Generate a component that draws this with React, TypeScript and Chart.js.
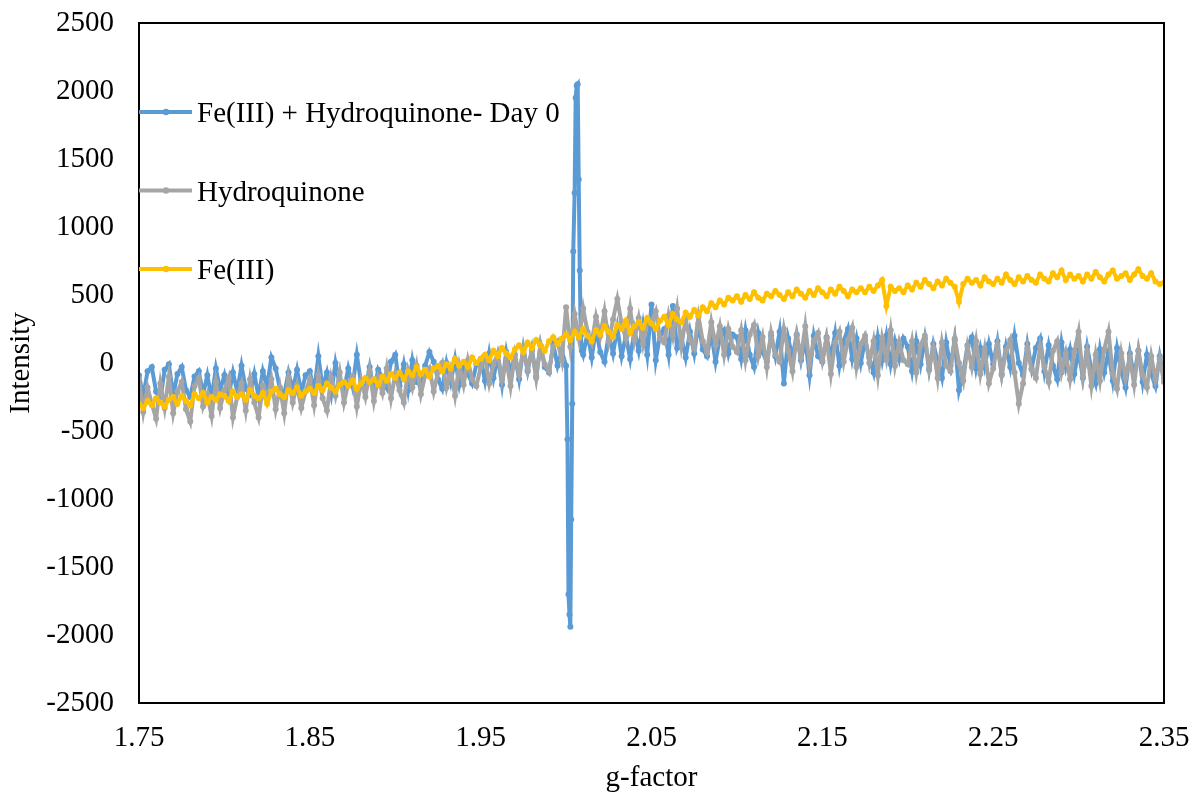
import React, { useEffect, useRef } from 'react';
import { Chart, registerables } from 'chart.js';

Chart.register(...registerables);

// ---- sampling grid (g-factor) ----
const X_START = 1.75;
const X_STEP = 0.0025;
const X_TICKS = [1.75, 1.85, 1.95, 2.05, 2.15, 2.25, 2.35];
const Y_MIN = -2500;
const Y_MAX = 2500;
const Y_STEP = 500;

const SERIES_NAMES = ['Fe(III) + Hydroquinone- Day 0', 'Hydroquinone', 'Fe(III)'];
const SERIES_COLORS = ['#5B9BD5', '#A5A5A5', '#FFC000'];

// Fe(III) + Hydroquinone - Day 0 : grid points 0..99 (1.75 – 1.9975)
const blueLeft = [
  -90, -250, -60, -30, -210, -270, -50, -10, -240, -80,
  -30, -200, -250, -100, -60, -230, -90, -260, -40, -200,
  -90, -240, -70, -210, -20, -190, -230, -80, -250, -60,
  -170, 40, -40, -190, -230, -70, -200, -50, -220, -90,
  -60, -210, 50, -180, -70, -230, 0, -160, -200, -40,
  -170, 60, -150, -190, -30, -210, -50, -110, -180, 10,
  60, -170, -10, -200, 20, -140, -170, -20, 80, 10,
  -120, -190, 0, -140, 30, -160, -20, -80, -150, -10,
  30, -130, 70, -110, 50, -160, 80, -80, 60, -120,
  110, -60, 100, -100, 130, -30, -70, 140, -20, 90,
];

// the sharp radical signal near g = 2.00
const spikeX = [2.0, 2.0008, 2.0014, 2.002, 2.0025, 2.003, 2.0036, 2.0042, 2.005, 2.0056, 2.0062, 2.0068, 2.0074, 2.008, 2.0086, 2.0092];
const spikeY = [-20, -560, -1700, -1850, -1940, -1150, -300, 820, 1250, 1950, 2040, 2050, 1350, 680, 200, 90];

// grid points 104..240 (2.01 – 2.35)
const blueRight = [
  60, 220, 40, 250, 80, 10, 210, 70, 260, 50,
  200, 30, 240, 90, 280, 60, 430, 20, 210, 250,
  60, 420, 110, 190, 40, 230, 70, 290, 100, 50,
  220, 10, 190, 240, 70, 210,
  190, 30, 240, 60, -30, 220, 80, 10, 200, 50,
  230, -150, 180, 40, 210, 20, 170, -90, 200, 50,
  10, 190, 40, 220, -20, 160, 250, 30, 180, 0,
  170, 40, -70, 190, 20, 200, -10, 160, 30, 180,
  120, -60, 160, -10, 180, -50, 140, 10, -110, 150,
  -20, 170, -200, -70, 130, 190, -40, 110, -30, 140,
  -10, 160, -80, 120, -30, 200, 0, -90, 140, -40,
  110, 180, -60, 130, -20, -120, 150, -30, 100, -80,
  90, -110, 120, -50, -150, 100, -70, 80, -130, 110,
  -60, -180, 70, -100, 90, -140, 60, -80, -170, 50, -110,
];

// Hydroquinone : grid points 0..240
const grayValues = [
  -120, -360, -180, -300, -410, -150, -330, -100, -370, -210,
  -140, -340, -430, -170, -110, -320, -230, -390, -140, -330,
  -200, -110, -400, -250, -150, -350, -120, -290, -400, -170,
  -260, -120, -340, -180, -370, -110, -290, -160, -330, -210,
  -120, -310, -90, -260, -350, -110, -240, -70, -290, -150,
  -100, -320, -130, -250, -60, -280, -110, -220, -40, -260,
  -80, -200, -290, -60, -180, -20, -230, -90, -40, -210,
  -70, 0, -180, -50, -240, -20, -160, 20, -120, -170,
  -30, 40, -150, -10, 70, -120, 30, -170, 60, -80,
  100, -50, 90, -110, 130, -10, -60, 120, 160, 20,
  410, 120, 360, 180, 400, 230, 150, 340, 200, 380,
  160, 320, 470, 290, 180, 400, 170, 330, 140, 300,
  300, 380, 180, 150, 350, 200, 400, 130, 320, 170,
  110, 340, 160, 80, 300, 130, 270, 60, 250, 120,
  80, 240, 20, 210, 280, 50, 190, -30, 220, 60,
  10, 250, 90, -60, 200, 40, 270, -10, 160, 220,
  20, 180, -80, 150, 230, 10, 170, 260, -30, 140,
  200, 0, 160, -90, 180, 30, 240, -20, 150, 20,
  -10, 160, -70, 130, 200, -40, 110, -110, 150, -20,
  -60, 180, 0, -130, 120, -30, 160, -80, 100, -150,
  -40, 130, -90, 90, 170, -70, -300, -150, 110, -50,
  -110, 120, -30, -140, 90, 160, -70, 70, -120, 80,
  230, -100, 80, -170, 60, -130, 100, 230, -80, -190,
  70, -110, 40, -160, 90, -90, -180, 50, -120, 30, -140,
];

// Fe(III) : grid points 0..240
const yellowValues = [
  -300, -330, -280, -310, -260, -290, -320, -270, -250, -300,
  -240, -280, -310, -230, -260, -220, -290, -250, -270, -230,
  -240, -280, -210, -250, -230, -270, -200, -240, -260, -220,
  -300, -210, -190, -230, -250, -200, -220, -180, -240, -210,
  -190, -220, -170, -200, -150, -180, -210, -160, -140, -170,
  -130, -190, -150, -110, -140, -120, -160, -100, -130, -80,
  -110, -70, -120, -60, -90, -30, -80, -50, -100, -40,
  -20, -60, -10, -40, 30, -20, 10, -30, 40, 0,
  30, 60, 20, 90, 50, 110, 70, 40, 100, 130,
  80, 150, 110, 170, 130, 90, 160, 190, 140, 180,
  210, 170, 230, 190, 250, 200, 160, 240, 210, 270,
  230, 190, 280, 250, 310, 220, 270, 300, 260, 330,
  290, 250, 310, 340, 280, 360, 320, 300, 370, 340,
  390, 350, 410, 380, 440, 410, 460, 430, 480, 460,
  490, 450, 500, 470, 520, 480, 460, 510, 490, 530,
  500, 470, 520, 490, 540, 510, 480, 530, 500, 550,
  520, 490, 540, 510, 560, 530, 490, 540, 520, 550,
  520, 560, 530, 570, 610, 420, 560, 530, 550, 520,
  570, 540, 590, 560, 610, 580, 550, 600, 570, 620,
  590, 560, 450, 580, 620, 590, 610, 570, 630, 600,
  580, 620, 590, 650, 610, 580, 630, 600, 640, 610,
  590, 650, 620, 600, 660, 630, 680, 610, 650, 620,
  640, 600, 650, 620, 670, 630, 600, 650, 680, 620,
  640, 660, 610, 650, 690, 640, 620, 660, 600, 580, 590,
];

const FONT_FAMILY = "'Liberation Serif', 'Times New Roman', serif";
const FONT_SIZE = 29;

const gridX = (i: number) => +(X_START + i * X_STEP).toFixed(4);

const blueData = [
  ...blueLeft.map((y, i) => ({ x: gridX(i), y })),
  ...spikeX.map((x, i) => ({ x, y: spikeY[i] })),
  ...blueRight.map((y, i) => ({ x: gridX(i + 104), y })),
];
const grayData = grayValues.map((y, i) => ({ x: gridX(i), y }));
const yellowData = yellowValues.map((y, i) => ({ x: gridX(i), y }));

const boxAndLegend = {
  id: 'boxAndLegend',
  afterDatasetsDraw(chart: any) {
    const { ctx, chartArea } = chart;
    const { left, top, right, bottom } = chartArea;
    ctx.save();
    ctx.strokeStyle = '#000';
    ctx.lineWidth = 2;
    ctx.strokeRect(left, top, right - left, bottom - top);

    const rowYs = [89, 167.5, 246];
    ctx.font = `${FONT_SIZE}px ${FONT_FAMILY}`;
    ctx.textBaseline = 'alphabetic';
    ctx.textAlign = 'left';
    SERIES_NAMES.forEach((name, k) => {
      const y = top + rowYs[k];
      ctx.strokeStyle = SERIES_COLORS[k];
      ctx.lineWidth = 4;
      ctx.beginPath();
      ctx.moveTo(left, y);
      ctx.lineTo(left + 53, y);
      ctx.stroke();
      ctx.fillStyle = SERIES_COLORS[k];
      ctx.beginPath();
      ctx.arc(left + 27, y, 3.2, 0, Math.PI * 2);
      ctx.fill();
      ctx.fillStyle = '#000';
      ctx.fillText(name, left + 58, y + 10);
    });
    ctx.restore();
  },
};

export default function App() {
  const canvasRef = useRef<HTMLCanvasElement | null>(null);

  useEffect(() => {
    if (!canvasRef.current) return;
    const font = { family: FONT_FAMILY, size: FONT_SIZE };
    const ds = (k: number, data: any[], order: number) => ({
      label: SERIES_NAMES[k],
      data,
      borderColor: SERIES_COLORS[k],
      backgroundColor: SERIES_COLORS[k],
      pointBackgroundColor: SERIES_COLORS[k],
      pointBorderWidth: 0,
      pointRadius: 3,
      borderWidth: 4,
      tension: 0,
      fill: false,
      order,
    });
    const chart = new Chart(canvasRef.current, {
      type: 'line',
      data: {
        datasets: [ds(0, blueData, 2), ds(1, grayData, 1), ds(2, yellowData, 0)],
      },
      plugins: [boxAndLegend],
      options: {
        animation: false,
        responsive: true,
        maintainAspectRatio: false,
        layout: { padding: { top: 23, right: 29, left: 0, bottom: 0 } },
        plugins: {
          legend: { display: false },
          tooltip: { enabled: false },
        },
        scales: {
          x: {
            type: 'linear',
            min: 1.75,
            max: 2.35,
            grid: { display: false, drawTicks: false },
            border: { display: false },
            afterBuildTicks: (axis: any) => {
              axis.ticks = X_TICKS.map((v) => ({ value: v }));
            },
            afterFit: (scale: any) => {
              scale.height = 92;
              scale.paddingLeft = 0;
              scale.paddingRight = 0;
            },
            ticks: {
              autoSkip: false,
              maxRotation: 0,
              minRotation: 0,
              padding: 18,
              color: '#000',
              font,
              callback: (v: any) => Number(v).toFixed(2),
            },
            title: {
              display: true,
              text: 'g-factor',
              color: '#000',
              font: { family: FONT_FAMILY, size: FONT_SIZE, lineHeight: 1 },
              padding: { top: 0, bottom: 2 },
            },
          },
          y: {
            type: 'linear',
            min: Y_MIN,
            max: Y_MAX,
            grid: { display: false, drawTicks: false },
            border: { display: false },
            afterFit: (scale: any) => {
              scale.width = 139;
              scale.paddingTop = 0;
              scale.paddingBottom = 0;
            },
            ticks: {
              stepSize: Y_STEP,
              padding: 25,
              color: '#000',
              font,
              callback: (v: any) => String(v),
            },
            title: {
              display: true,
              text: 'Intensity',
              color: '#000',
              font,
              padding: { top: 4, bottom: 0 },
            },
          },
        },
      },
    } as any);
    return () => chart.destroy();
  }, []);

  return (
    <div style={{ position: 'fixed', left: 0, top: 0, width: 1193, height: 795, background: '#fff' }}>
      <canvas ref={canvasRef} />
    </div>
  );
}
